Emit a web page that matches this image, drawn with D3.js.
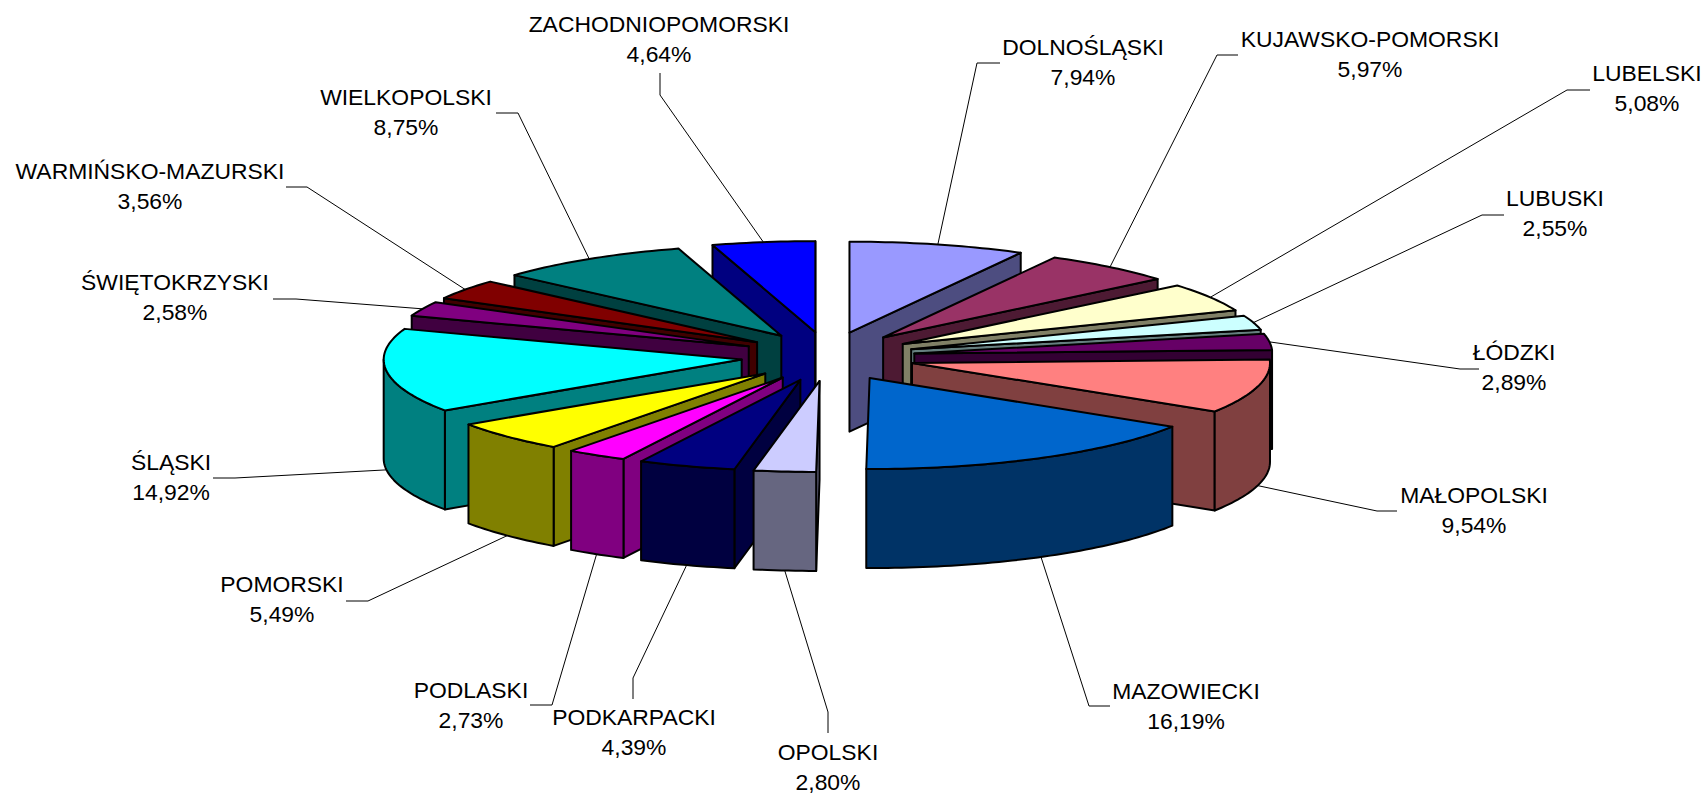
<!DOCTYPE html>
<html>
<head>
<meta charset="utf-8">
<title>Województwa</title>
<script src="https://cdn.jsdelivr.net/npm/d3@7"></script>
<style>
  html, body { margin: 0; padding: 0; background: #fff; }
  svg { display: block; }
  text { font-family: "Liberation Sans", Arial, sans-serif; font-size: 22.9px; fill: #000; text-anchor: middle; }
</style>
</head>
<body>
<div id="chart-container"></div>
<script>
// data, clockwise from 12 o'clock
const regions = ['DOLNOŚLĄSKI', 'KUJAWSKO-POMORSKI', 'LUBELSKI', 'LUBUSKI', 'ŁÓDZKI', 'MAŁOPOLSKI', 'MAZOWIECKI', 'OPOLSKI',
  'PODKARPACKI', 'PODLASKI', 'POMORSKI', 'ŚLĄSKI', 'ŚWIĘTOKRZYSKI', 'WARMIŃSKO-MAZURSKI', 'WIELKOPOLSKI', 'ZACHODNIOPOMORSKI'];
const shares = [7.94, 5.97, 5.08, 2.55, 2.89, 9.54, 16.19, 2.80, 4.39, 2.73, 5.49, 14.92, 2.58, 3.56, 8.75, 4.64];
const sliceColors = ['#9999FF', '#993366', '#FFFFCC', '#CCFFFF', '#660066', '#FF8080', '#0066CC', '#CCCCFF',
  '#000080', '#FF00FF', '#FFFF00', '#00FFFF', '#800080', '#800000', '#008080', '#0000FF'];

// hand placed label layout: centre x, centre y of the name
const labelSpots = [[1083, 47], [1370, 39], [1647, 73], [1555, 198], [1514, 352], [1474, 495], [1186, 691], [828, 752],
  [634, 717], [471, 690], [282, 584], [171, 462], [175, 282], [150, 171], [406, 97], [659, 24]];
// leader line: knee x, knee y, end x, end y
const leaderEnds = [[977, 63, 1000, 63], [1217, 55, 1238, 55], [1567, 90, 1590, 90], [1482, 215, 1504, 215],
  [1460, 369, 1479, 369], [1377, 511, 1397, 511], [1089, 706, 1110, 706], [828, 712, 828, 733],
  [633, 678, 633, 699], [552, 705, 530, 705], [368, 601, 346, 601], [235, 478, 213, 478],
  [296, 299, 273, 299], [307, 187, 286, 187], [518, 113, 496, 113], [660, 95, 660, 73]];

// pie geometry
const width = 1708, height = 794;
const centerX = 828, centerY = 356.5;
const radiusX = 358, radiusY = 91;
const depth = 99;
const explodeX = 0.243, explodeY = 0.27;

const svg = d3.select('#chart-container').append('svg')
  .attr('width', width)
  .attr('height', height);

// unit circle -> tilted ellipse
const xScale = d3.scaleLinear().domain([-1, 1]).range([centerX - radiusX, centerX + radiusX]);
const yScale = d3.scaleLinear().domain([-1, 1]).range([centerY + radiusY, centerY - radiusY]);

const pie = d3.pie().sort(null).value(d => d.share);
const line = d3.line().x(d => d[0]).y(d => d[1]);

const data = regions.map((name, i) => ({
  name: name,
  share: shares[i],
  color: sliceColors[i],
  spot: labelSpots[i],
  leader: leaderEnds[i]
}));

const slices = pie(data).map(d => {
  const mid = (d.startAngle + d.endAngle) / 2;
  d.mid = mid;
  d.ox = Math.sin(mid) * explodeX;
  d.oy = Math.cos(mid) * explodeY;
  return d;
});

function point(d, angle, drop) {
  const r = angle === null ? 0 : 1;
  const a = angle === null ? 0 : angle;
  return [xScale(d.ox + r * Math.sin(a)), yScale(d.oy + r * Math.cos(a)) + (drop || 0)];
}

function arcPoints(d, a0, a1, drop) {
  const n = Math.max(2, Math.ceil((a1 - a0) / 0.02));
  return d3.range(n + 1).map(i => point(d, a0 + (a1 - a0) * i / n, drop));
}

function darker(color) {
  const c = d3.rgb(color);
  return d3.rgb(c.r / 2, c.g / 2, c.b / 2).formatHex();
}

function drawFace(points, fill) {
  svg.append('path')
    .attr('d', line(points) + 'Z')
    .attr('fill', fill)
    .attr('stroke', '#000')
    .attr('stroke-width', 2)
    .attr('stroke-linejoin', 'round');
}

// back slices first so that the front ones paint over their walls
slices.slice().sort((a, b) => d3.descending(Math.cos(a.mid), Math.cos(b.mid))).forEach(d => {
  const wall = darker(d.data.color);
  const apex = point(d, null);
  const apexLow = point(d, null, depth);

  // radial walls that face the viewer
  if (Math.sin(d.startAngle) < 0) {
    drawFace([apex, point(d, d.startAngle), point(d, d.startAngle, depth), apexLow], wall);
  }
  if (Math.sin(d.endAngle) > 0) {
    drawFace([apex, point(d, d.endAngle), point(d, d.endAngle, depth), apexLow], wall);
  }

  // outer rim, front half only
  const a0 = Math.max(d.startAngle, Math.PI / 2);
  const a1 = Math.min(d.endAngle, Math.PI * 1.5);
  if (a1 > a0) {
    drawFace(arcPoints(d, a0, a1, 0).concat(arcPoints(d, a0, a1, depth).reverse()), wall);
  }

  // top
  drawFace([apex].concat(arcPoints(d, d.startAngle, d.endAngle, 0)), d.data.color);
});

// leaders and labels
slices.forEach(d => {
  const front = Math.cos(d.mid) < 0;
  const from = point(d, d.mid, front ? depth : 0);
  const [kx, ky, ex, ey] = d.data.leader;
  svg.append('path')
    .attr('d', line([from, [kx, ky], [ex, ey]]))
    .attr('fill', 'none')
    .attr('stroke', '#000')
    .attr('stroke-width', 1);

  const [lx, ly] = d.data.spot;
  svg.append('text').attr('x', lx).attr('y', ly + 7.5).text(d.data.name);
  svg.append('text').attr('x', lx).attr('y', ly + 37.5).text(d.data.share.toFixed(2).replace('.', ',') + '%');
});
</script>
</body>
</html>
